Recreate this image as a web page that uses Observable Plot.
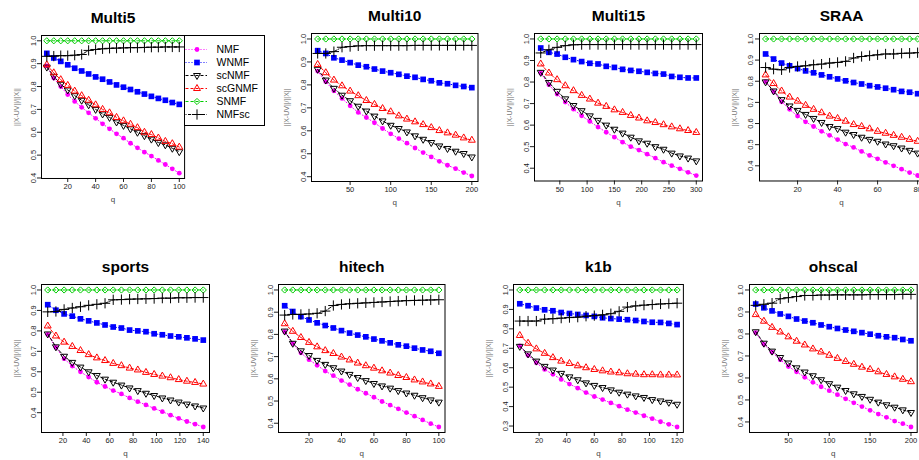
<!DOCTYPE html>
<html><head><meta charset="utf-8">
<script src="https://cdn.jsdelivr.net/npm/d3@7"></script>
<script src="https://cdn.jsdelivr.net/npm/@observablehq/plot@0.6"></script>
<style>
html,body{margin:0;padding:0;background:#fff;}
#chart{position:relative;width:919px;height:460px;overflow:hidden;background:#fff;}
#chart > div{position:absolute;}
</style></head><body><div id="chart"></div>
<script>
// ---------- data ----------
const seriesNames = ["NMF","WNMF","scNMF","scGNMF","SNMF","NMFsc"];
const yAxisLabel = "||X-UV||/||X||";
const xAxisLabel = "q";

// Multi5
const q_Multi5 = [5,10,15,20,25,30,35,40,45,50,55,60,65,70,75,80,85,90,95,100];
const Multi5_NMF = [0.89,0.837,0.80,0.765,0.735,0.709,0.685,0.661,0.637,0.615,0.593,0.574,0.552,0.532,0.513,0.496,0.477,0.459,0.44,0.421];
const Multi5_WNMF = [0.945,0.925,0.91,0.895,0.88,0.868,0.855,0.842,0.832,0.82,0.807,0.797,0.787,0.777,0.767,0.757,0.748,0.74,0.73,0.722];
const Multi5_scNMF = [0.885,0.845,0.81,0.785,0.76,0.74,0.72,0.70,0.68,0.665,0.645,0.63,0.615,0.60,0.585,0.57,0.555,0.545,0.53,0.515];
const Multi5_scGNMF = [0.895,0.86,0.83,0.805,0.78,0.76,0.74,0.72,0.70,0.685,0.665,0.65,0.635,0.62,0.60,0.59,0.575,0.56,0.55,0.535];
const Multi5_SNMF = [1,1,1,1,1,1,1,1,1,1,1,1,1,1,1,1,1,1,1,1];
const Multi5_NMFsc = [0.932,0.933,0.935,0.935,0.937,0.94,0.958,0.962,0.965,0.967,0.968,0.969,0.97,0.97,0.971,0.972,0.972,0.973,0.973,0.973];
const xTicks_Multi5 = [20,40,60,80,100];

// Multi10
const q_Multi10 = [10,20,30,40,50,60,70,80,90,100,110,120,130,140,150,160,170,180,190,200];
const Multi10_NMF = [0.86,0.814,0.774,0.741,0.709,0.68,0.658,0.635,0.61,0.587,0.566,0.546,0.525,0.505,0.486,0.467,0.45,0.435,0.418,0.403];
const Multi10_WNMF = [0.949,0.937,0.918,0.908,0.897,0.886,0.879,0.869,0.86,0.853,0.846,0.838,0.833,0.824,0.818,0.809,0.805,0.798,0.793,0.788];
const Multi10_scNMF = [0.868,0.821,0.785,0.755,0.731,0.707,0.686,0.664,0.643,0.624,0.61,0.595,0.578,0.563,0.549,0.534,0.523,0.511,0.501,0.486];
const Multi10_scGNMF = [0.889,0.853,0.821,0.796,0.773,0.753,0.732,0.715,0.697,0.683,0.665,0.651,0.639,0.627,0.614,0.601,0.591,0.581,0.569,0.559];
const Multi10_SNMF = [1,1,1,1,1,1,1,1,1,1,1,1,1,1,1,1,1,1,1,1];
const Multi10_NMFsc = [0.937,0.937,0.945,0.964,0.967,0.97,0.971,0.971,0.971,0.971,0.971,0.971,0.972,0.972,0.972,0.972,0.972,0.972,0.972,0.972];
const xTicks_Multi10 = [50,100,150,200];

// Multi15
const q_Multi15 = [15,30,45,60,75,90,105,120,135,150,165,180,195,210,225,240,255,270,285,300];
const Multi15_NMF = [0.842,0.788,0.744,0.707,0.674,0.643,0.617,0.591,0.567,0.544,0.521,0.50,0.484,0.465,0.447,0.428,0.412,0.397,0.381,0.366];
const Multi15_WNMF = [0.958,0.938,0.93,0.915,0.904,0.895,0.887,0.884,0.873,0.868,0.859,0.854,0.85,0.845,0.84,0.837,0.826,0.822,0.819,0.819];
const Multi15_scNMF = [0.845,0.798,0.757,0.722,0.691,0.667,0.643,0.622,0.60,0.581,0.563,0.544,0.527,0.516,0.50,0.488,0.47,0.457,0.447,0.434];
const Multi15_scGNMF = [0.884,0.842,0.811,0.783,0.76,0.738,0.721,0.702,0.687,0.671,0.659,0.645,0.633,0.62,0.612,0.602,0.592,0.583,0.575,0.566];
const Multi15_SNMF = [1,1,1,1,1,1,1,1,1,1,1,1,1,1,1,1,1,1,1,1];
const Multi15_NMFsc = [0.935,0.95,0.961,0.969,0.973,0.974,0.974,0.974,0.974,0.974,0.974,0.974,0.974,0.974,0.974,0.974,0.974,0.974,0.974,0.974];
const xTicks_Multi15 = [50,100,150,200,250,300];

// SRAA
const q_SRAA = [4,8,12,16,20,24,28,32,36,40,44,48,52,56,60,64,68,72,76,80];
const SRAA_NMF = [0.798,0.751,0.703,0.667,0.635,0.608,0.586,0.563,0.544,0.524,0.503,0.487,0.468,0.449,0.433,0.416,0.40,0.384,0.368,0.354];
const SRAA_WNMF = [0.929,0.905,0.886,0.873,0.86,0.849,0.84,0.83,0.821,0.811,0.802,0.794,0.787,0.779,0.773,0.767,0.76,0.752,0.748,0.741];
const SRAA_scNMF = [0.797,0.754,0.713,0.683,0.662,0.643,0.624,0.605,0.586,0.576,0.559,0.548,0.535,0.525,0.516,0.503,0.495,0.484,0.473,0.46];
const SRAA_scGNMF = [0.83,0.789,0.754,0.725,0.706,0.686,0.667,0.651,0.635,0.624,0.611,0.595,0.586,0.575,0.563,0.554,0.544,0.535,0.525,0.516];
const SRAA_SNMF = [1,1,1,1,1,1,1,1,1,1,1,1,1,1,1,1,1,1,1,1];
const SRAA_NMFsc = [0.865,0.857,0.854,0.865,0.87,0.873,0.878,0.881,0.886,0.889,0.894,0.91,0.917,0.921,0.925,0.929,0.929,0.932,0.933,0.935];
const xTicks_SRAA = [20,40,60,80];

// sports
const q_sports = [7,14,21,28,35,42,49,56,63,70,77,84,91,98,105,112,119,126,133,140];
const sports_NMF = [0.783,0.719,0.664,0.628,0.60,0.574,0.549,0.528,0.508,0.492,0.472,0.454,0.438,0.421,0.405,0.388,0.372,0.357,0.344,0.33];
const sports_WNMF = [0.928,0.901,0.883,0.872,0.859,0.849,0.839,0.829,0.819,0.814,0.804,0.80,0.796,0.786,0.781,0.775,0.771,0.766,0.761,0.755];
const sports_scNMF = [0.785,0.722,0.676,0.646,0.623,0.60,0.582,0.564,0.549,0.535,0.521,0.508,0.495,0.484,0.472,0.462,0.452,0.442,0.433,0.423];
const sports_scGNMF = [0.824,0.775,0.745,0.724,0.704,0.684,0.668,0.655,0.641,0.63,0.618,0.609,0.597,0.587,0.579,0.571,0.562,0.554,0.548,0.54];
const sports_SNMF = [1,1,1,1,1,1,1,1,1,1,1,1,1,1,1,1,1,1,1,1];
const sports_NMFsc = [0.893,0.895,0.905,0.912,0.918,0.925,0.93,0.935,0.952,0.953,0.955,0.956,0.957,0.958,0.96,0.96,0.962,0.962,0.963,0.963];
const xTicks_sports = [20,40,60,80,100,120,140];

// hitech
const q_hitech = [5,10,15,20,25,30,35,40,45,50,55,60,65,70,75,80,85,90,95,100];
const hitech_NMF = [0.812,0.759,0.717,0.686,0.661,0.635,0.614,0.592,0.574,0.553,0.535,0.517,0.498,0.482,0.465,0.448,0.432,0.415,0.398,0.383];
const hitech_WNMF = [0.929,0.903,0.88,0.865,0.852,0.84,0.829,0.817,0.806,0.797,0.789,0.779,0.771,0.762,0.753,0.747,0.738,0.73,0.724,0.715];
const hitech_scNMF = [0.815,0.76,0.726,0.705,0.683,0.665,0.65,0.635,0.62,0.606,0.592,0.579,0.568,0.558,0.547,0.536,0.526,0.515,0.505,0.495];
const hitech_scGNMF = [0.848,0.814,0.786,0.764,0.744,0.727,0.714,0.698,0.685,0.671,0.659,0.648,0.636,0.626,0.615,0.606,0.595,0.586,0.577,0.566];
const hitech_SNMF = [1,1,1,1,1,1,1,1,1,1,1,1,1,1,1,1,1,1,1,1];
const hitech_NMFsc = [0.887,0.89,0.89,0.892,0.895,0.905,0.93,0.935,0.938,0.94,0.942,0.944,0.946,0.948,0.95,0.952,0.953,0.954,0.955,0.956];
const xTicks_hitech = [20,40,60,80,100];

// k1b
const q_k1b = [6,12,18,24,30,36,42,48,54,60,66,72,78,84,90,96,102,108,114,120];
const k1b_NMF = [0.712,0.664,0.626,0.591,0.566,0.54,0.516,0.495,0.472,0.452,0.436,0.419,0.402,0.384,0.369,0.353,0.338,0.322,0.309,0.295];
const k1b_WNMF = [0.929,0.919,0.907,0.898,0.893,0.884,0.879,0.874,0.869,0.864,0.857,0.853,0.85,0.847,0.843,0.838,0.834,0.833,0.828,0.822];
const k1b_scNMF = [0.71,0.671,0.634,0.607,0.588,0.571,0.553,0.538,0.522,0.509,0.498,0.486,0.474,0.464,0.455,0.447,0.436,0.429,0.422,0.412];
const k1b_scGNMF = [0.766,0.726,0.697,0.674,0.652,0.634,0.622,0.61,0.60,0.591,0.584,0.578,0.574,0.569,0.567,0.564,0.564,0.563,0.563,0.563];
const k1b_SNMF = [1,1,1,1,1,1,1,1,1,1,1,1,1,1,1,1,1,1,1,1];
const k1b_NMFsc = [0.84,0.84,0.84,0.85,0.852,0.855,0.858,0.86,0.865,0.868,0.872,0.878,0.89,0.912,0.918,0.922,0.925,0.928,0.93,0.932];
const xTicks_k1b = [20,40,60,80,100,120];

// ohscal
const q_ohscal = [10,20,30,40,50,60,70,80,90,100,110,120,130,140,150,160,170,180,190,200];
const ohscal_NMF = [0.806,0.753,0.717,0.683,0.652,0.628,0.603,0.58,0.56,0.542,0.524,0.505,0.487,0.47,0.453,0.436,0.421,0.404,0.392,0.377];
const ohscal_WNMF = [0.936,0.919,0.905,0.891,0.88,0.868,0.859,0.851,0.841,0.833,0.825,0.818,0.812,0.806,0.799,0.792,0.787,0.783,0.775,0.769];
const ohscal_scNMF = [0.81,0.758,0.722,0.693,0.668,0.646,0.627,0.61,0.592,0.574,0.558,0.543,0.528,0.516,0.503,0.49,0.478,0.467,0.455,0.443];
const ohscal_scGNMF = [0.888,0.858,0.83,0.809,0.787,0.767,0.75,0.732,0.718,0.703,0.689,0.675,0.662,0.649,0.639,0.628,0.616,0.605,0.594,0.583];
const ohscal_SNMF = [1,1,1,1,1,1,1,1,1,1,1,1,1,1,1,1,1,1,1,1];
const ohscal_NMFsc = [0.93,0.935,0.94,0.96,0.965,0.97,0.975,0.975,0.977,0.977,0.978,0.978,0.978,0.978,0.979,0.979,0.979,0.979,0.98,0.98];
const xTicks_ohscal = [50,100,150,200];

const yTicks_default = [0.4,0.5,0.6,0.7,0.8,0.9,1.0];
const yTicks_k1b = [0.3,0.4,0.5,0.6,0.7,0.8,0.9,1.0];

// ---------- panels (built from the arrays above) ----------
const panels = [
  {title:"Multi5", q:q_Multi5, values:[Multi5_NMF,Multi5_WNMF,Multi5_scNMF,Multi5_scGNMF,Multi5_SNMF,Multi5_NMFsc], xTicks:xTicks_Multi5, yTicks:yTicks_default},
  {title:"Multi10", q:q_Multi10, values:[Multi10_NMF,Multi10_WNMF,Multi10_scNMF,Multi10_scGNMF,Multi10_SNMF,Multi10_NMFsc], xTicks:xTicks_Multi10, yTicks:yTicks_default},
  {title:"Multi15", q:q_Multi15, values:[Multi15_NMF,Multi15_WNMF,Multi15_scNMF,Multi15_scGNMF,Multi15_SNMF,Multi15_NMFsc], xTicks:xTicks_Multi15, yTicks:yTicks_default},
  {title:"SRAA", q:q_SRAA, values:[SRAA_NMF,SRAA_WNMF,SRAA_scNMF,SRAA_scGNMF,SRAA_SNMF,SRAA_NMFsc], xTicks:xTicks_SRAA, yTicks:yTicks_default},
  {title:"sports", q:q_sports, values:[sports_NMF,sports_WNMF,sports_scNMF,sports_scGNMF,sports_SNMF,sports_NMFsc], xTicks:xTicks_sports, yTicks:yTicks_default},
  {title:"hitech", q:q_hitech, values:[hitech_NMF,hitech_WNMF,hitech_scNMF,hitech_scGNMF,hitech_SNMF,hitech_NMFsc], xTicks:xTicks_hitech, yTicks:yTicks_default},
  {title:"k1b", q:q_k1b, values:[k1b_NMF,k1b_WNMF,k1b_scNMF,k1b_scGNMF,k1b_SNMF,k1b_NMFsc], xTicks:xTicks_k1b, yTicks:yTicks_k1b},
  {title:"ohscal", q:q_ohscal, values:[ohscal_NMF,ohscal_WNMF,ohscal_scNMF,ohscal_scGNMF,ohscal_SNMF,ohscal_NMFsc], xTicks:xTicks_ohscal, yTicks:yTicks_default}
];

// ---------- layout & style ----------
const frames = {
  Multi5:{left:40.5, top:35, right:183.6, bottom:178},
  Multi10:{left:311.4, top:33, right:477.9, bottom:181},
  Multi15:{left:534, top:33, right:702, bottom:180.5},
  SRAA:{left:758.6, top:33, right:922.8, bottom:180.5},
  sports:{left:40.5, top:284, right:208.5, bottom:432},
  hitech:{left:277.5, top:284, right:444, bottom:432},
  k1b:{left:512.6, top:284, right:682.5, bottom:432},
  ohscal:{left:748.6, top:284, right:916.3, bottom:432}
};
const legendBox = {left:183.6, top:35, width:80, height:90};
const FONT = '"Liberation Sans", Arial, Helvetica, sans-serif';

const triangleDown = {
  draw(context, size) {
    const s = Math.sqrt(size) * 0.6824, t = s / 2, u = (s * Math.sqrt(3)) / 2;
    context.moveTo(0, s); context.lineTo(u, -t); context.lineTo(-u, -t); context.closePath();
  }
};
const styleOf = {
  NMF:   {color:"#ff00ff", dash:"1,2",   symbol:"circle",   fill:"#ff00ff", stroke:"none",   r:2.4},
  WNMF:  {color:"#0000ff", dash:"1,2",   symbol:"square",   fill:"#0000ff", stroke:"none",   r:3.2},
  scNMF: {color:"#000000", dash:"3,2",   symbol:triangleDown, fill:"none",  stroke:"#000000", r:3.3},
  scGNMF:{color:"#ff0000", dash:"3,2",   symbol:"triangle2", fill:"none",   stroke:"#ff0000", r:3.3},
  SNMF:  {color:"#00cd00", dash:"3,2",   symbol:"diamond2", fill:"none",    stroke:"#00cd00", r:2.8},
  NMFsc: {color:"#000000", dash:"1,1.5,3,1.5", symbol:"plus", fill:"none",  stroke:"#000000", r:3.4}
};

const ML = 44, MR = 6, MT = 38, MB = 32;
const chart = document.getElementById("chart");

function seriesMarks(rows, name) {
  const st = styleOf[name];
  const data = rows.filter(d => d.series === name);
  return [
    Plot.line(data, {x:"q", y:"v", stroke:st.color, strokeWidth:1, strokeDasharray:st.dash}),
    Plot.dot(data, {x:"q", y:"v", symbol:st.symbol, r:st.r, fill:st.fill, stroke:st.stroke, strokeWidth:1})
  ];
}

panels.forEach(p => {
  const f = frames[p.title];
  const rows = [];
  seriesNames.forEach((s, i) => p.values[i].forEach((v, j) => rows.push({series:s, q:p.q[j], v})));
  const vals = rows.map(d => d.v);
  const ymin = d3.min(vals), ymax = d3.max(vals), yr = ymax - ymin;
  const xmin = d3.min(p.q), xmax = d3.max(p.q), xr = xmax - xmin;
  const fw = f.right - f.left, fh = f.bottom - f.top;
  const W = fw + ML + MR, H = fh + MT + MB;
  const marks = [];
  seriesNames.forEach(s => marks.push(...seriesMarks(rows, s)));
  marks.push(Plot.frame({stroke:"#000", strokeWidth:1}));
  marks.push(Plot.text([p.title], {text:d=>d, frameAnchor:"top", lineAnchor:"middle", dy:-17, fontSize:15.5, fontWeight:"bold", fill:"#000"}));
  marks.push(Plot.text([xAxisLabel], {text:d=>d, frameAnchor:"bottom", lineAnchor:"middle", dy:21, fontSize:8, fill:"#444"}));
  marks.push(Plot.text([yAxisLabel], {text:d=>d, frameAnchor:"left", textAnchor:"middle", lineAnchor:"middle", dx:-25, rotate:-90, fontSize:7, fill:"#777"}));
  const svg = Plot.plot({
    width: W, height: H,
    marginLeft: ML, marginRight: MR, marginTop: MT, marginBottom: MB,
    style: `max-width:none;background:transparent;overflow:visible;font-family:${FONT};font-size:7.5px;color:#222;`,
    x: {domain:[xmin - 0.04*xr, xmax + 0.04*xr], ticks:p.xTicks, tickSize:4, tickPadding:1.5, tickFormat:"d", label:null},
    y: {domain:[ymin - 0.04*yr, ymax + 0.04*yr], ticks:p.yTicks, tickSize:4, tickPadding:2, tickRotate:-90, tickFormat:".1f", label:null},
    marks
  });
  const div = document.createElement("div");
  div.style.left = (f.left - ML) + "px";
  div.style.top = (f.top - MT) + "px";
  div.style.width = W + "px";
  div.style.height = H + "px";
  div.appendChild(svg);
  chart.appendChild(div);
});

// ---------- legend ----------
{
  const lg = legendBox;
  const marks = [Plot.frame({stroke:"#000", strokeWidth:1})];
  seriesNames.forEach(s => {
    const st = styleOf[s];
    marks.push(Plot.ruleY([s], {y:d=>d, insetLeft:1.5, insetRight:lg.width - 23, stroke:st.color, strokeWidth:1, strokeDasharray:st.dash}));
    marks.push(Plot.dot([s], {y:d=>d, frameAnchor:"left", dx:12.5, symbol:st.symbol, r:st.r, fill:st.fill, stroke:st.stroke, strokeWidth:1}));
  });
  marks.push(Plot.text(seriesNames, {y:d=>d, text:d=>d, frameAnchor:"left", dx:32, textAnchor:"start", lineAnchor:"middle", fontSize:10.5, fill:"#000"}));
  const svg = Plot.plot({
    width: lg.width, height: lg.height, margin: 0,
    style: `max-width:none;background:#fff;overflow:visible;font-family:${FONT};`,
    y: {type:"point", domain:seriesNames, range:[13.5, 78.5], padding:0, axis:null},
    marks
  });
  const div = document.createElement("div");
  div.style.left = lg.left + "px";
  div.style.top = lg.top + "px";
  div.style.width = lg.width + "px";
  div.style.height = lg.height + "px";
  div.appendChild(svg);
  chart.appendChild(div);
}
</script>
</body></html>
